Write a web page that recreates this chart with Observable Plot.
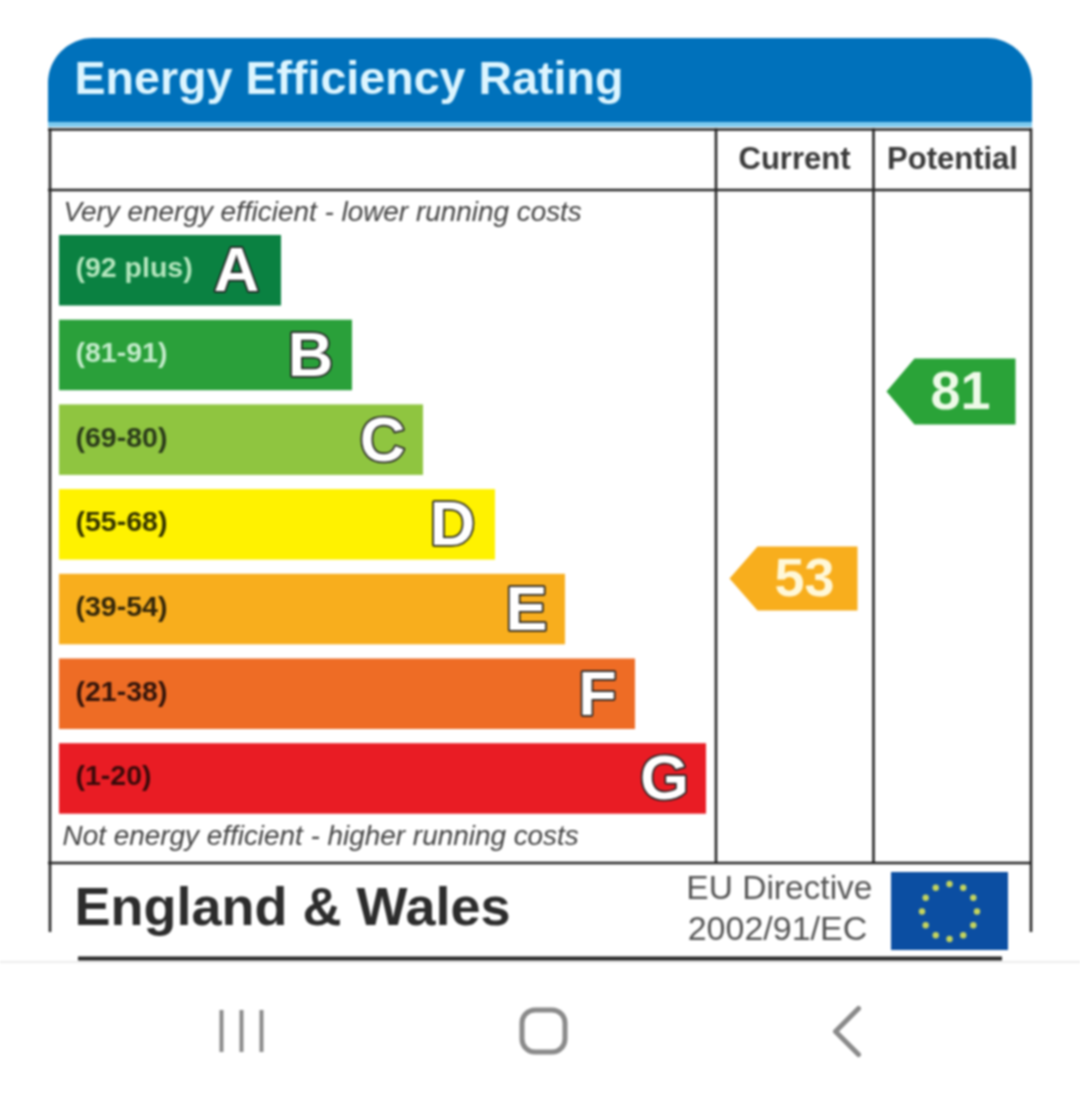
<!DOCTYPE html>
<html>
<head>
<meta charset="utf-8">
<script src="https://cdn.jsdelivr.net/npm/d3@7"></script>
<script src="https://cdn.jsdelivr.net/npm/@observablehq/plot@0.6"></script>
<style>html,body{margin:0;padding:0;background:#fff} svg{filter:blur(0.8px)} svg text{font-family:"Liberation Sans",Arial,sans-serif}</style>
</head>
<body>
<div id="chart"></div>
<script>
// ---- data ----
const bands = ["A", "B", "C", "D", "E", "F", "G"];
const ranges = ["(92 plus)", "(81-91)", "(69-80)", "(55-68)", "(39-54)", "(21-38)", "(1-20)"];
const barLengths = [222, 293, 364, 436, 506, 576, 647];
const bandColors = ["#0a8141", "#2aa03a", "#8fc540", "#fff200", "#f8ae1d", "#ee6c25", "#e91c24"];
const rangeColors = ["#b4e6bd", "#c4eccb", "#2a3a1a", "#333300", "#33260a", "#33140a", "#3a0a0a"];
const currentRating = 53;
const potentialRating = 81;
const titleText = "Energy Efficiency Rating";
const columnHeads = ["Current", "Potential"];
const topNote = "Very energy efficient - lower running costs";
const bottomNote = "Not energy efficient - higher running costs";
const region = "England & Wales";
const directive = ["EU Directive", "2002/91/EC"];

// ---- layout helpers (chart units = page units) ----
const barLeft = 59, bandTop0 = 235, bandStep = 84.7, bandH = 70.5;
const letterInset = [45, 42, 41, 43, 39, 38, 42];
const ratingY = r => 578 + (53 - r) * (578 - 391) / (81 - 53);
const font = "'Liberation Sans', Arial, sans-serif";
const box = (x1, y1, x2, y2, o) => Plot.rect([0], {x1: [x1], y1: [y1], x2: [x2], y2: [y2], ...o});
const hline = (x1, x2, y, o) => Plot.ruleY([y], {x1: [x1], x2: [x2], stroke: "#262626", strokeWidth: 2.6, ...o});
const vline = (x, y1, y2, o) => Plot.ruleX([x], {y1: [y1], y2: [y2], stroke: "#262626", strokeWidth: 2.6, ...o});
const label = (s, x, y, o) => Plot.text([s], {x: [x], y: [y], text: d => d, fontFamily: font, ...o});
const arrow = (xTip, xBody, xEnd, yMid, half, fill) => Plot.line(
  [[xTip, yMid], [xBody, yMid - half], [xEnd, yMid - half], [xEnd, yMid + half], [xBody, yMid + half]],
  {x: d => d[0], y: d => d[1], fill, stroke: "none", curve: "linear-closed"});

const rows = bands.map((b, i) => ({
  band: b, range: ranges[i], len: barLengths[i], color: bandColors[i], rangeColor: rangeColors[i],
  top: bandTop0 + i * bandStep, inset: letterInset[i]
}));
const stars = d3.range(12).map(i => [949 + 27.5 * Math.cos(i * Math.PI / 6), 911 + 27.5 * Math.sin(i * Math.PI / 6)]);

const chart = Plot.plot({
  width: 1080, height: 1105,
  marginTop: 0, marginRight: 0, marginBottom: 0, marginLeft: 0,
  x: {domain: [0, 1080], range: [0, 1080], axis: null},
  y: {domain: [0, 1105], range: [0, 1105], axis: null},
  style: {background: "#fff"},
  marks: [
    // header
    box(48, 38, 1032, 200, {fill: "#0071bb", rx: 45}),
    box(48, 122, 1032, 127, {fill: "#7cc9ee"}),
    box(48, 127, 1032, 800, {fill: "#fff"}),
    label(titleText, 74, 79, {textAnchor: "start", fontSize: 46.6, fontWeight: 700, fill: "#dcf5ff"}),

    // frame
    vline(49.5, 128, 932), vline(1030.5, 128, 932),
    hline(78, 1002, 958, {strokeWidth: 4}),
    hline(48, 1032, 129),
    hline(48, 1032, 189.5),
    hline(48, 1032, 862.5),
    vline(715.5, 128, 862), vline(873, 128, 862),

    // column heads
    label(columnHeads[0], 794, 159, {fontSize: 31, fontWeight: 700, fill: "#3a3a3a"}),
    label(columnHeads[1], 952, 159, {fontSize: 31, fontWeight: 700, fill: "#3a3a3a"}),

    // notes
    label(topNote, 63, 212, {textAnchor: "start", fontSize: 27.9, fontStyle: "italic", fill: "#444"}),
    label(bottomNote, 62, 836, {textAnchor: "start", fontSize: 27.9, fontStyle: "italic", fill: "#444"}),

    // bars
    Plot.rect(rows, {x1: () => barLeft, x2: d => barLeft + d.len, y1: d => d.top, y2: d => d.top + bandH, fill: d => d.color}),
    Plot.text(rows, {x: () => 75, y: d => d.top + 32.5, text: "range", textAnchor: "start",
      fontFamily: font, fontSize: 28.5, fontWeight: 700, fill: d => d.rangeColor}),
    Plot.text(rows, {x: d => barLeft + d.len - d.inset, y: d => d.top + 35.5, text: "band",
      fontFamily: font, fontSize: 63, fontWeight: 700, fill: "#fff", stroke: "#222", strokeWidth: 3.5}),

    // ratings
    arrow(729, 757, 857, ratingY(currentRating), 32, "#f8ae1d"),
    label(String(currentRating), 804, ratingY(currentRating), {fontSize: 54, fontWeight: 700, fill: "#fff8d8"}),
    arrow(886, 914, 1015, ratingY(potentialRating), 33, "#2aa338"),
    label(String(potentialRating), 960, ratingY(potentialRating), {fontSize: 54, fontWeight: 700, fill: "#eefae8"}),

    // footer
    label(region, 74, 907, {textAnchor: "start", fontSize: 54, fontWeight: 700, fill: "#2c2c2c"}),
    label(directive[0], 872, 888, {textAnchor: "end", fontSize: 33.5, fill: "#555"}),
    label(directive[1], 777, 929, {fontSize: 34, fill: "#555"}),
    box(891, 872, 1008, 950, {fill: "#0b4ea2"}),
    Plot.dot(stars, {x: d => d[0], y: d => d[1], r: 3.2, fill: "#c4d45e"}),

    // phone navigation bar
    hline(0, 1080, 961.5, {stroke: "#e6e6e6", strokeWidth: 1.5}),
    vline(221, 1010, 1052, {stroke: "#8a8a8a", strokeWidth: 4}),
    vline(241, 1010, 1052, {stroke: "#8a8a8a", strokeWidth: 4}),
    vline(261, 1010, 1052, {stroke: "#8a8a8a", strokeWidth: 4}),
    box(522, 1010, 565, 1052, {fill: "none", stroke: "#8a8a8a", strokeWidth: 5, rx: 13}),
    Plot.line([[858, 1008], [835, 1031], [858, 1054]], {x: d => d[0], y: d => d[1], stroke: "#8a8a8a", strokeWidth: 5, curve: "linear"})
  ]
});
document.getElementById("chart").append(chart);
</script>
</body>
</html>
